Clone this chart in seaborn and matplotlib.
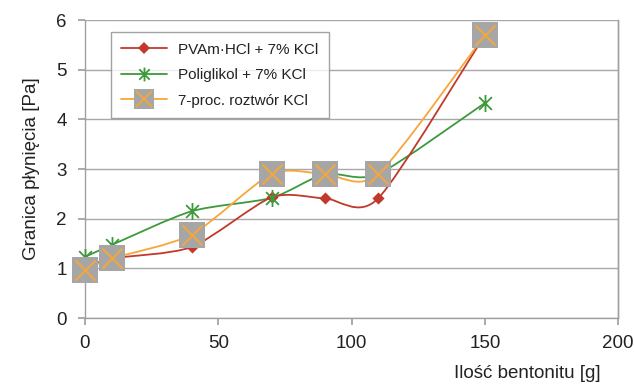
import numpy as np
import pandas as pd
import matplotlib
matplotlib.use("Agg")
import matplotlib.pyplot as plt
from matplotlib.path import Path
from matplotlib.patches import PathPatch
from matplotlib.lines import Line2D
import seaborn as sns

x_vals = [0, 10, 40, 70, 90, 110, 150]
pvam = [1.0, 1.2, 1.43, 2.43, 2.41, 2.41, 5.7]
poliglikol = [1.23, 1.47, 2.15, 2.42, 2.9, 2.9, 4.33]
kcl = [0.97, 1.2, 1.68, 2.9, 2.9, 2.9, 5.7]
names = ["PVAm\u00b7HCl + 7% KCl", "Poliglikol + 7% KCl", "7-proc. roztwór KCl"]
x_ticks = [0, 50, 100, 150, 200]
y_ticks = [0, 1, 2, 3, 4, 5, 6]

RED = "#C0392B"
GREEN = "#3C9A3C"
ORANGE = "#F7A638"
GRAY = "#A6A6A6"

sns.set_theme(style="white")
plt.rcParams["font.family"] = ["Liberation Sans", "DejaVu Sans"]

fig = plt.figure(figsize=(6.34, 3.91), dpi=100)
ax = fig.add_axes([0.134, 0.1867, 0.841, 0.762])

def smooth_path(xs, ys, k=8.0):
    pts = np.column_stack([xs, ys]).astype(float)
    n = len(pts)
    verts = [pts[0]]
    codes = [Path.MOVETO]
    for i in range(n - 1):
        p0 = pts[i - 1] if i > 0 else pts[i]
        p1 = pts[i]
        p2 = pts[i + 1]
        p3 = pts[i + 2] if i + 2 < n else pts[i + 1]
        c1 = p1 + (p2 - p0) / k
        c2 = p2 - (p3 - p1) / k
        verts += [c1, c2, p2]
        codes += [Path.CURVE4] * 3
    return Path(verts, codes)

# asterisk marker (X + vertical)
ast = Path(
    [(0, -1), (0, 1), (-0.75, -0.75), (0.75, 0.75), (-0.75, 0.75), (0.75, -0.75)],
    [Path.MOVETO, Path.LINETO, Path.MOVETO, Path.LINETO, Path.MOVETO, Path.LINETO],
)

df = pd.DataFrame({"x": x_vals, "pvam": pvam, "poli": poliglikol, "kcl": kcl})

# smooth lines
for col, c, z in [("poli", GREEN, 2), ("kcl", ORANGE, 3), ("pvam", RED, 2.5)]:
    ax.add_patch(PathPatch(smooth_path(df["x"], df[col]), facecolor="none",
                           edgecolor=c, lw=1.3, zorder=z))

# markers
sns.scatterplot(data=df, x="x", y="pvam", marker="D", s=38, color=RED,
                edgecolor=RED, linewidth=0, ax=ax, zorder=4, clip_on=False)
sns.scatterplot(data=df, x="x", y="poli", marker=ast, s=150, color=GREEN,
                edgecolor=GREEN, linewidth=1.3, ax=ax, zorder=5, clip_on=False)
sns.scatterplot(data=df, x="x", y="kcl", marker="s", s=330, color=GRAY,
                edgecolor=GRAY, linewidth=0, ax=ax, zorder=6, clip_on=False)
sns.scatterplot(data=df, x="x", y="kcl", marker="x", s=210, color=ORANGE,
                linewidth=1.4, ax=ax, zorder=7, clip_on=False)

ax.set_xlim(0, 200)
ax.set_ylim(0, 6)
ax.set_xticks(x_ticks)
ax.set_yticks(y_ticks)
ax.grid(axis="y", color="#A8A8A8", lw=1.0)
ax.set_axisbelow(True)
for s in ["left", "right", "bottom"]:
    ax.spines[s].set_color("#A0A0A0")
    ax.spines[s].set_linewidth(1.0)
ax.spines["top"].set_visible(False)
ax.tick_params(axis="both", which="major", length=5, color="#A0A0A0",
               labelsize=13.5, labelcolor="#222222", direction="out")
ax.tick_params(axis="x", pad=7, bottom=True)
ax.tick_params(axis="y", pad=8, left=True)
ax.set_xlabel("")
ax.set_ylabel("Granica płynięcia [Pa]", fontsize=13.5, color="#222222", labelpad=12)
fig.text(0.947, 0.022, "Ilość bentonitu [g]", ha="right", va="bottom",
         fontsize=13.5, color="#222222")

# right frame line
ax.axvline(200, color="#A0A0A0", lw=1.0, clip_on=False)

h1 = Line2D([], [], color=RED, lw=1.3, marker="D", markersize=6, markeredgewidth=0)
h2 = Line2D([], [], color=GREEN, lw=1.3, marker=ast, markersize=10,
            markeredgecolor=GREEN, markeredgewidth=1.3)
h3a = Line2D([], [], color=ORANGE, lw=1.3, marker="s", markersize=14,
             markerfacecolor=GRAY, markeredgewidth=0)
h3b = Line2D([], [], color=ORANGE, lw=0, marker="x", markersize=11,
             markeredgecolor=ORANGE, markeredgewidth=1.3)
leg = ax.legend([h1, h2, (h3a, h3b)], names, loc="upper left",
                bbox_to_anchor=(0.048, 0.96), frameon=True, fancybox=False,
                fontsize=11, handlelength=3.0, labelspacing=0.75,
                borderpad=0.7, handletextpad=0.7, borderaxespad=0)
leg.get_frame().set_edgecolor("#8C8C8C")
leg.get_frame().set_linewidth(1.0)
for t in leg.get_texts():
    t.set_color("#222222")

fig.savefig("out.png", dpi=100)
